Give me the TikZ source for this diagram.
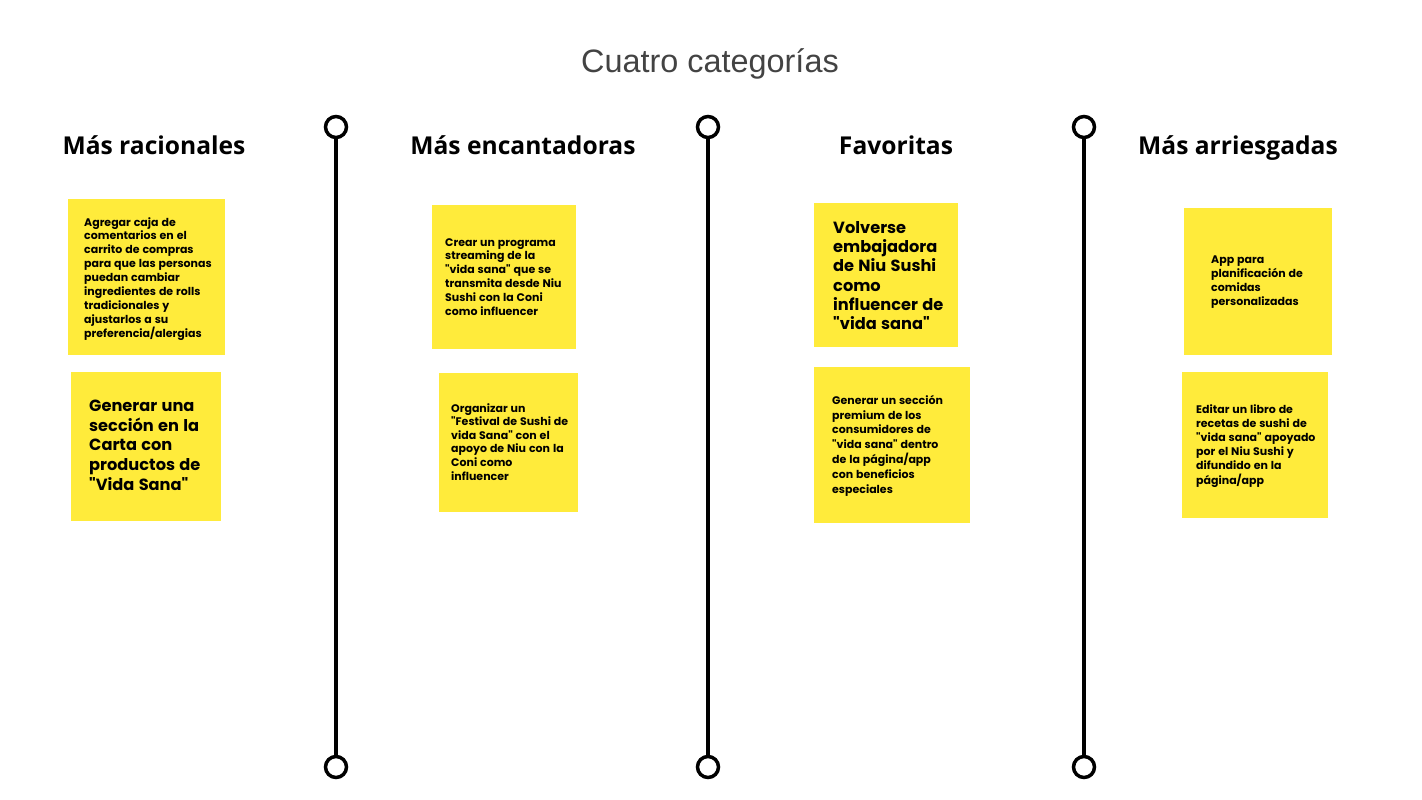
\documentclass[tikz,border=0pt]{standalone}
\usepackage{fontspec}
\setmainfont{Liberation Sans}
\newfontfamily\notefont{Poppins}[BoldFont={* Bold},WordSpace=1.25]
\newfontfamily\headfont{Open Sans}
\definecolor{sticky}{RGB}{255,235,59}
\definecolor{titlegray}{RGB}{67,67,67}
\begin{document}
\begin{tikzpicture}[x=1pt,y=-1pt,
  stickybox/.style={fill=sticky,draw=none},
  smalltext/.style={anchor=north west,inner sep=0pt,align=left,font=\notefont\bfseries\fontsize{11}{13.9}\selectfont},
  bigtext/.style={anchor=north west,inner sep=0pt,align=left,font=\notefont\bfseries\fontsize{16.2}{19.6}\selectfont},
  heading/.style={inner sep=0pt,anchor=base,font=\headfont\bfseries\fontsize{24.6}{28}\selectfont},
  endpoint/.style={circle,draw=black,line width=3.5pt,minimum size=21pt,inner sep=0pt,fill=white},
  axis/.style={draw=black,line width=3.5pt}]
\useasboundingbox[fill=white] (0,0) rectangle (1422,800);
\node[font=\fontsize{32.4}{36}\selectfont,text=titlegray] (title) at (710,64) {Cuatro categorías};
% axes
\foreach \n/\x in {a/336,b/708,c/1084}{
  \node[endpoint] (\n top) at (\x,127) {};
  \node[endpoint] (\n bot) at (\x,767) {};
  \draw[axis] (\n top) -- (\n bot);
}
% headings
\node[heading] (h1) at (154,154) {Más racionales};
\node[heading] (h2) at (523,154) {Más encantadoras};
\node[heading] (h3) at (896,154) {Favoritas};
\node[heading] (h4) at (1238,154) {Más arriesgadas};
% notes
\fill[stickybox] (68,199) rectangle (225,355);
\node[smalltext] (n1) at (84,217) {Agregar caja de\\comentarios en el\\carrito de compras\\para que las personas\\puedan cambiar\\ingredientes de rolls\\tradicionales y\\ajustarlos a su\\preferencia/alergias};
\fill[stickybox] (71,372) rectangle (221,521);
\node[bigtext] (n2) at (89,400) {Generar una\\sección en la\\Carta con\\productos de\\"Vida Sana"};
\fill[stickybox] (432,205) rectangle (576,349);
\node[smalltext] (n3) at (445,238) {Crear un programa\\streaming de la\\"vida sana" que se\\transmita desde Niu\\Sushi con la Coni\\como influencer};
\fill[stickybox] (439,373) rectangle (578,512);
\node[smalltext,font=\notefont\bfseries\fontsize{11}{13.6}\selectfont] (n4) at (451,403) {Organizar un\\"Festival de Sushi de\\vida Sana" con el\\apoyo de Niu con la\\Coni como\\influencer};
\fill[stickybox] (814,203) rectangle (958,347);
\node[bigtext,font=\notefont\bfseries\fontsize{16.2}{19.3}\selectfont] (n5) at (833,221) {Volverse\\embajadora\\de Niu Sushi\\como\\influencer de\\"vida sana"};
\fill[stickybox] (814,367) rectangle (970,523);
\node[smalltext,font=\notefont\bfseries\fontsize{11}{14.8}\selectfont] (n6) at (832,395) {Generar un sección\\premium de los\\consumidores de\\"vida sana" dentro\\de la página/app\\con beneficios\\especiales};
\fill[stickybox] (1184,208) rectangle (1332,355);
\node[smalltext] (n7) at (1211,256) {App para\\planificación de\\comidas\\personalizadas};
\fill[stickybox] (1182,372) rectangle (1328,518);
\node[smalltext,font=\notefont\bfseries\fontsize{11}{14.2}\selectfont] (n8) at (1196,404) {Editar un libro de\\recetas de sushi de\\"vida sana" apoyado\\por el Niu Sushi y\\difundido en la\\página/app};
\end{tikzpicture}
\end{document}
